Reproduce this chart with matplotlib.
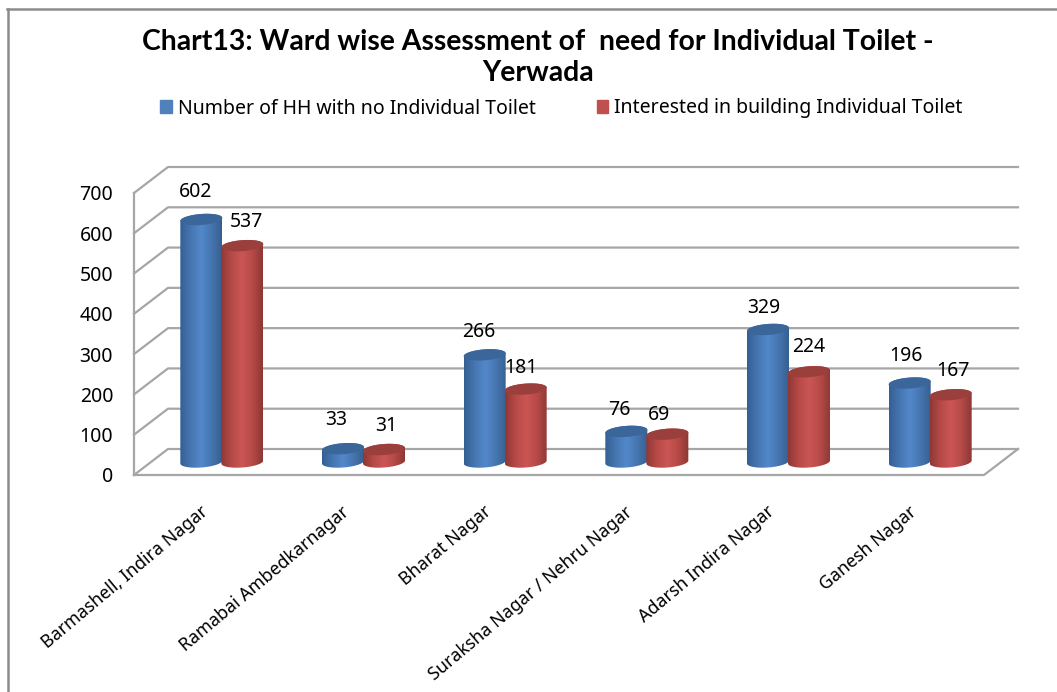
import numpy as np
import matplotlib
matplotlib.use("Agg")
import matplotlib.pyplot as plt
from matplotlib.lines import Line2D
from matplotlib.patches import Patch, PathPatch
from matplotlib.path import Path
from matplotlib.colors import LinearSegmentedColormap

# data
wards = ["Barmashell, Indira Nagar", "Ramabai Ambedkarnagar", "Bharat Nagar",
         "Suraksha Nagar / Nehru Nagar", "Adarsh Indira Nagar", "Ganesh Nagar"]
no_toilet = [602, 33, 266, 76, 329, 196]
interested = [537, 31, 181, 69, 224, 167]
y_ticks = [0, 100, 200, 300, 400, 500, 600, 700]

W, H = 1057, 692
plt.rcParams["font.family"] = ["Noto Sans", "DejaVu Sans"]

fig = plt.figure(figsize=(W / 100, H / 100), dpi=100)
# axes = front plane of the fake 3D box
ax = fig.add_axes([134 / W, 1 - 475 / H, 850 / W, 282 / H])
ax.set_xlim(0, 6)
ax.set_ylim(0, 700)
ax.patch.set_visible(False)
for s in ax.spines.values():
    s.set_visible(False)

px_x = 6 / 850
px_y = 700 / 282
depth_x = 34 * px_x
depth_y = 26 * px_y
grey = "#a6a6a6"

# back wall, side wall and floor
for v in y_ticks:
    ax.plot([0, depth_x, 6 + depth_x], [v, v + depth_y, v + depth_y],
            color=grey, lw=1.6, clip_on=False, zorder=1)
ax.plot([0, 0], [0, 700], color=grey, lw=1.6, clip_on=False, zorder=1)
ax.plot([0, 6, 6 + depth_x], [0, 0, depth_y], color=grey, lw=1.6, clip_on=False, zorder=1)

blue_cm = LinearSegmentedColormap.from_list("b", ["#335f93", "#4676b0", "#5288cb", "#4676b0", "#365f90"])
red_cm = LinearSegmentedColormap.from_list("r", ["#8f3836", "#b64a47", "#cb5654", "#b64a47", "#8c3735"])
grad = np.linspace(0, 1, 128).reshape(1, -1)


def cylinder(xc, value, cmap, top_col, z):
    # xc in category units, value in data units, sits half way into the box
    a = 21 * px_x
    b = 5.5 * px_y
    tilt = 1.5 * px_y
    base = depth_y / 2
    top = base + value
    t = np.linspace(0, np.pi, 40)
    xs = xc + a * np.cos(t)
    up = top + b * np.sin(t) + tilt * np.cos(t)
    down = base - b * np.sin(t[::-1]) + tilt * np.cos(t[::-1])
    body = np.column_stack([np.r_[xs, xs[::-1]], np.r_[up, down]])
    im = ax.imshow(grad, cmap=cmap, aspect="auto", zorder=z, clip_on=True,
                   extent=[xc - a, xc + a, base - b - tilt, top + b + tilt])
    clip = PathPatch(Path(body), transform=ax.transData, fc="none", ec="none")
    ax.add_patch(clip)
    im.set_clip_path(clip)
    t2 = np.linspace(0, 2 * np.pi, 80)
    cap = np.column_stack([xc + a * np.cos(t2), top + b * np.sin(t2) + tilt * np.cos(t2)])
    ax.add_patch(PathPatch(Path(cap), fc=top_col, ec="none", zorder=z + 0.5, clip_on=False))


shift = depth_x / 2
bar_off = 20.5 * px_x
centres = np.arange(len(wards)) + 0.5 + shift

# pixel nudges of the data labels, as placed in the reference
blue_off = [(-6, 27), (-7, 29), (-6, 23), (-7, 21), (-4, 21), (-4, 27)]
red_off = [(4, 24), (2, 24), (-5, 21), (-8, 19), (0, 25), (2, 24)]

for i, c in enumerate(centres):
    cylinder(c - bar_off, no_toilet[i], blue_cm, "#3b6699", 3)
    cylinder(c + bar_off, interested[i], red_cm, "#9b3f3d", 4)
    for xx, val, off in [(c - bar_off, no_toilet[i], blue_off[i]),
                         (c + bar_off, interested[i], red_off[i])]:
        ax.annotate(str(val), (xx, val + depth_y / 2), xytext=(off[0] * 0.72, off[1] * 0.72),
                    textcoords="offset points", ha="center", va="center",
                    fontsize=14, color="black", zorder=6, annotation_clip=False)

ax.set_xlim(0, 6)
ax.set_ylim(0, 700)
ax.set_yticks(y_ticks)
ax.tick_params(axis="y", length=0, pad=15, labelsize=14)
ax.set_xticks(centres - 22 * px_x)
ax.set_xticklabels(wards, rotation=40, ha="right", rotation_mode="anchor", fontsize=12.8)
ax.tick_params(axis="x", length=0, pad=20)

fig.suptitle("Chart13: Ward wise Assessment of  need for Individual Toilet -\nYerwada",
             x=538 / W, y=1 - 29 / H, va="top", ha="center", fontsize=20.4,
             fontweight="bold", family="Lato", linespacing=1.22)

handles = [Patch(color="#4f81bd", label="Number of HH with no Individual Toilet"),
           Patch(color="#c0504d", label="Interested in building Individual Toilet")]
fig.legend(handles=handles, loc="center", bbox_to_anchor=(561.5 / W, 1 - 108.5 / H), ncol=2,
           frameon=False, fontsize=14, handlelength=0.6, handleheight=0.6,
           handletextpad=0.3, columnspacing=3.13, borderpad=0)

# picture frame
fig.add_artist(Line2D([7.5 / W, 7.5 / W], [0, 1 - 9 / H], color="#8c8c8c", lw=1.8))
fig.add_artist(Line2D([7 / W, 1], [1 - 9 / H, 1 - 9 / H], color="#8c8c8c", lw=1.8))

fig.savefig("out.png", dpi=100)
